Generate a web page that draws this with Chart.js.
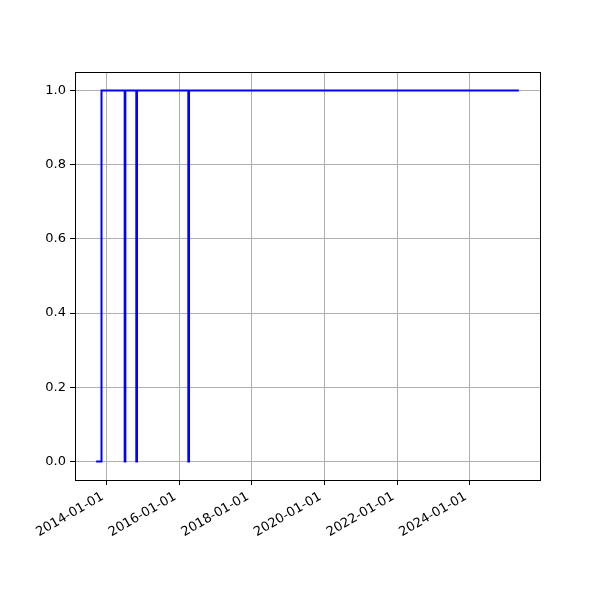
<!DOCTYPE html>
<html lang="en">
<head>
    <meta charset="UTF-8">
    <title>Step chart</title>
    <script src="https://cdn.jsdelivr.net/npm/chart.js"></script>
    <style>
        body {
            margin: 0;
            padding: 0;
            background-color: #ffffff;
        }
        #wrap {
            width: 600px;
            height: 600px;
        }
    </style>
</head>
<body>
    <div id="wrap">
        <canvas id="myChart" width="600" height="600"></canvas>
    </div>

    <script>
        // change points of the status series (value holds until next date)
        var dates = ['2013-09-17', '2013-11-10', '2014-07-01', '2014-07-08', '2014-10-26', '2014-11-02',
                     '2016-04-01', '2016-04-08', '2025-05-08'];
        var values = [0, 1, 0, 1, 0, 1, 0, 1, 1];
        var xTickDates = ['2014-01-01', '2016-01-01', '2018-01-01', '2020-01-01', '2022-01-01', '2024-01-01'];
        var yTicks = [0, 0.2, 0.4, 0.6, 0.8, 1.0];

        var times = dates.map(function (d) { return Date.parse(d); });
        var points = times.map(function (t, i) { return { x: t, y: values[i] }; });
        var span = times[times.length - 1] - times[0];
        var xMin = times[0] - span * 0.05;
        var xMax = times[times.length - 1] + span * 0.05;

        var fontSpec = { family: 'DejaVu Sans', size: 13 };

        // full box around the plot, like the matplotlib spines
        var frame = {
            id: 'frame',
            afterDraw: function (chart) {
                var a = chart.chartArea;
                var c = chart.ctx;
                c.save();
                c.strokeStyle = '#000';
                c.lineWidth = 1;
                c.strokeRect(a.left + 0.5, a.top + 0.5, a.right - a.left, a.bottom - a.top);
                c.restore();
            }
        };

        var ctx = document.getElementById('myChart').getContext('2d');
        var myChart = new Chart(ctx, {
            type: 'line',
            data: {
                datasets: [{
                    data: points,
                    borderColor: '#0000ff',
                    borderWidth: 2,
                    pointRadius: 0,
                    stepped: true,
                    fill: false
                }]
            },
            options: {
                responsive: false,
                animation: false,
                layout: { padding: { top: 72, right: 60, left: 0, bottom: 0 } },
                plugins: {
                    legend: { display: false },
                    tooltip: { enabled: false }
                },
                scales: {
                    x: {
                        type: 'linear',
                        min: xMin,
                        max: xMax,
                        afterBuildTicks: function (axis) {
                            axis.ticks = xTickDates.map(function (d) { return { value: Date.parse(d) }; });
                        },
                        afterFit: function (axis) { axis.height = 120; },
                        ticks: {
                            color: '#000',
                            font: fontSpec,
                            minRotation: 30,
                            maxRotation: 30,
                            padding: 4,
                            labelOffset: -4,
                            autoSkip: false,
                            callback: function (v) { return new Date(v).toISOString().slice(0, 10); }
                        },
                        grid: { color: '#b0b0b0', lineWidth: 1, tickColor: '#000', tickLength: 5 },
                        border: { display: false }
                    },
                    y: {
                        min: -0.05,
                        max: 1.05,
                        afterBuildTicks: function (axis) {
                            axis.ticks = yTicks.map(function (v) { return { value: v }; });
                        },
                        afterFit: function (axis) { axis.width = 75; },
                        ticks: {
                            color: '#000',
                            font: fontSpec,
                            padding: 4,
                            callback: function (v) { return v.toFixed(1); }
                        },
                        grid: { color: '#b0b0b0', lineWidth: 1, tickColor: '#000', tickLength: 5 },
                        border: { display: false }
                    }
                }
            },
            plugins: [frame]
        });
    </script>
</body>
</html>
